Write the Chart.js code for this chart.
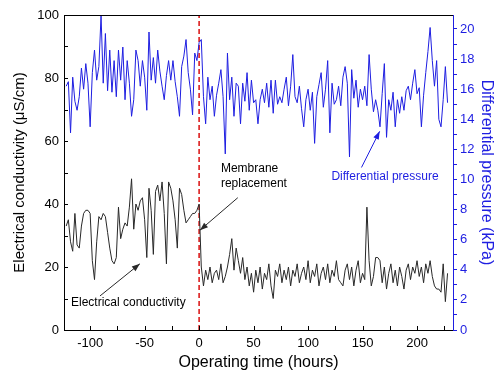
<!DOCTYPE html>
<html>
<head>
<meta charset="utf-8">
<script src="https://cdn.jsdelivr.net/npm/chart.js@4.4.0/dist/chart.umd.min.js"></script>
<style>
    html, body { margin: 0; padding: 0; background: #fff; }
</style>
</head>
<body>
<canvas id="chart" width="496" height="375"></canvas>
<script>
// Operating time (hours), one reading every 2 h
const hours = [
    -122, -120, -118, -116, -114, -112, -110, -108, -106, -104,
    -102, -100, -98, -96, -94, -92, -90, -88, -86, -84,
    -82, -80, -78, -76, -74, -72, -70, -68, -66, -64,
    -62, -60, -58, -56, -54, -52, -50, -48, -46, -44,
    -42, -40, -38, -36, -34, -32, -30, -28, -26, -24,
    -22, -20, -18, -16, -14, -12, -10, -8, -6, -4,
    -2, 0, 2, 4, 6, 8, 10, 12, 14, 16,
    18, 20, 22, 24, 26, 28, 30, 32, 34, 36,
    38, 40, 42, 44, 46, 48, 50, 52, 54, 56,
    58, 60, 62, 64, 66, 68, 70, 72, 74, 76,
    78, 80, 82, 84, 86, 88, 90, 92, 94, 96,
    98, 100, 102, 104, 106, 108, 110, 112, 114, 116,
    118, 120, 122, 124, 126, 128, 130, 132, 134, 136,
    138, 140, 142, 144, 146, 148, 150, 152, 154, 156,
    158, 160, 162, 164, 166, 168, 170, 172, 174, 176,
    178, 180, 182, 184, 186, 188, 190, 192, 194, 196,
    198, 200, 202, 204, 206, 208, 210, 212, 214, 216,
    218, 220, 222, 224, 226, 228
];

// Electrical conductivity (uS/cm), left axis
const conductivity = [
    33, 35, 28, 25, 37, 27, 26, 33, 37, 38,
    38, 37, 22, 16, 28, 36, 35, 37, 36, 31,
    26, 22, 21, 23, 39, 29, 32, 34, 33, 39,
    48, 32, 40, 38, 41, 42, 35, 23, 45, 38,
    24, 44, 46, 41, 47, 37, 21, 47, 45, 41,
    35, 26, 45, 43, 38, 34, 35, 36, 37, 37,
    38, 40, 20, 14, 19, 16, 20, 15, 18, 19,
    16, 21, 15, 17, 20, 24, 29, 19, 26, 22,
    18, 23, 16, 20, 14, 18, 12, 19, 15, 20,
    13, 18, 16, 21, 14, 10, 19, 17, 21, 15,
    19, 16, 20, 14, 19, 17, 21, 15, 18, 20,
    16, 22, 15, 19, 17, 21, 14, 18, 20, 16,
    21, 15, 19, 17, 22, 16, 15, 14, 19, 21,
    16, 20, 14, 19, 22, 15, 18, 16, 39, 22,
    14, 17, 23, 23, 22, 15, 20, 13, 18, 21,
    15, 19, 14, 20, 17, 13, 19, 21, 16, 20,
    18, 22, 17, 20, 15, 21, 18, 22, 17, 14,
    13, 13, 12, 21, 9, 18
];

// Differential pressure (kPa), right axis
const pressure = [
    16.2, 16.5, 13.1, 16.8, 15.2, 14.6, 15.5, 17.4, 16.0, 17.7,
    16.4, 13.5, 17.1, 18.6, 16.6, 17.5, 20.9, 16.4, 19.7, 15.9,
    18.6, 15.8, 17.9, 15.5, 18.6, 16.6, 18.8, 15.3, 17.9, 16.4,
    14.2, 15.3, 18.6, 17.9, 16.2, 17.9, 16.8, 14.6, 19.8, 16.6,
    18.1, 16.4, 18.6, 17.2, 16.2, 15.3, 16.9, 17.9, 16.6, 17.9,
    16.5, 15.5, 14.2, 17.5, 18.2, 19.3, 17.1, 16.0, 14.3, 18.4,
    17.9, 19.1, 19.3, 15.5, 13.7, 16.8, 15.3, 16.2, 14.2, 15.6,
    16.4, 17.3, 15.5, 11.7, 18.4, 15.3, 16.8, 14.2, 16.4, 16.2,
    13.7, 16.4, 15.2, 17.1, 14.6, 16.6, 15.1, 15.3, 13.7, 15.3,
    16.0, 15.1, 16.4, 14.8, 16.6, 14.4, 16.6, 15.0, 15.5, 15.1,
    16.0, 16.8, 14.9, 16.2, 18.3, 15.5, 15.1, 16.2, 14.7, 13.5,
    15.3, 16.0, 14.6, 15.8, 12.4, 15.5, 16.3, 17.1, 14.8, 16.0,
    17.9, 13.1, 16.4, 15.0, 15.3, 16.2, 14.9, 16.8, 17.5, 16.4,
    11.5, 17.3, 15.4, 16.6, 14.8, 16.0, 15.3, 16.2, 14.9, 18.3,
    16.0, 14.5, 15.3, 14.6, 13.5, 15.7, 17.7, 12.8, 15.3, 14.6,
    15.8, 13.5, 15.3, 14.4, 15.5, 14.6, 15.9, 16.2, 15.3, 16.4,
    17.3, 15.7, 16.1, 13.5, 15.6, 17.1, 18.5, 20.1, 17.9, 16.2,
    17.9, 14.0, 13.5, 15.3, 17.5, 15.1
];

// Membrane replacement marker
const replacementHours = [0, 0];
const replacementSpan = [0, 100];

const blue = "rgb(30, 30, 225)";
const dark = "rgb(40, 40, 40)";

Chart.defaults.font.family = "'Liberation Sans', Arial, sans-serif";
Chart.defaults.font.size = 13;
Chart.defaults.color = "#000";

// Text labels and arrows, positioned in axis units
const notes = [
    { axis: "y", x: -117.6, y: 8.6, lines: ["Electrical conductivity"], color: "#000", align: "left" },
    { axis: "y", x: 20, y: 51.3, lines: ["Membrane", "replacement"], color: "#000", align: "left" },
    { axis: "y2", x: 170.6, y: 10.2, lines: ["Differential pressure"], color: blue, align: "center" }
];
const arrows = [
    { axis: "y", from: [-91, 10.8], to: [-54.4, 21], color: dark },
    { axis: "y", from: [35.5, 42], to: [0.8, 31.7], color: dark },
    { axis: "y2", from: [149, 10.8], to: [165.7, 13.2], color: blue }
];

const frameAndNotes = {
    id: "frameAndNotes",
    afterDraw(chart) {
        const { ctx, chartArea: a, scales } = chart;
        ctx.save();

        // top frame line
        ctx.strokeStyle = "#000";
        ctx.lineWidth = 1;
        ctx.beginPath();
        ctx.moveTo(a.left, a.top + 0.5);
        ctx.lineTo(a.right, a.top + 0.5);
        ctx.stroke();

        // inward ticks on left and bottom axes
        ctx.beginPath();
        for (let v = 10; v < 100; v += 10) {
            const py = Math.round(scales.y.getPixelForValue(v)) + 0.5;
            ctx.moveTo(a.left, py);
            ctx.lineTo(a.left + 4, py);
        }
        for (let v = -100; v <= 225; v += 25) {
            const px = Math.round(scales.x.getPixelForValue(v)) + 0.5;
            ctx.moveTo(px, a.bottom);
            ctx.lineTo(px, a.bottom - 4);
        }
        ctx.stroke();

        // notes
        ctx.font = "12px 'Liberation Sans', Arial, sans-serif";
        ctx.textBaseline = "middle";
        notes.forEach(n => {
            ctx.fillStyle = n.color;
            ctx.textAlign = n.align;
            const px = scales.x.getPixelForValue(n.x);
            const py = scales[n.axis].getPixelForValue(n.y);
            n.lines.forEach((t, i) => ctx.fillText(t, px, py + i * 15));
        });

        // arrows
        arrows.forEach(ar => {
            const x0 = scales.x.getPixelForValue(ar.from[0]);
            const y0 = scales[ar.axis].getPixelForValue(ar.from[1]);
            const x1 = scales.x.getPixelForValue(ar.to[0]);
            const y1 = scales[ar.axis].getPixelForValue(ar.to[1]);
            const ang = Math.atan2(y1 - y0, x1 - x0);
            ctx.strokeStyle = ar.color;
            ctx.fillStyle = ar.color;
            ctx.lineWidth = 1;
            ctx.beginPath();
            ctx.moveTo(x0, y0);
            ctx.lineTo(x1, y1);
            ctx.stroke();
            ctx.beginPath();
            ctx.moveTo(x1, y1);
            ctx.lineTo(x1 - 8 * Math.cos(ang) + 3 * Math.sin(ang), y1 - 8 * Math.sin(ang) - 3 * Math.cos(ang));
            ctx.lineTo(x1 - 8 * Math.cos(ang) - 3 * Math.sin(ang), y1 - 8 * Math.sin(ang) + 3 * Math.cos(ang));
            ctx.closePath();
            ctx.fill();
        });
        ctx.restore();
    }
};

new Chart(document.getElementById("chart"), {
    type: "line",
    data: {
        datasets: [
            {
                label: "Electrical conductivity",
                data: hours.map((h, i) => ({ x: h, y: conductivity[i] })),
                yAxisID: "y",
                borderColor: dark,
                borderWidth: 1,
                pointRadius: 0,
                tension: 0
            },
            {
                label: "Differential pressure",
                data: hours.map((h, i) => ({ x: h, y: pressure[i] })),
                yAxisID: "y2",
                borderColor: blue,
                borderWidth: 1,
                pointRadius: 0,
                tension: 0
            },
            {
                label: "Membrane replacement",
                data: replacementHours.map((h, i) => ({ x: h, y: replacementSpan[i] })),
                yAxisID: "y",
                borderColor: "rgb(220, 30, 30)",
                borderWidth: 1.6,
                borderDash: [5, 3],
                pointRadius: 0
            }
        ]
    },
    options: {
        responsive: false,
        animation: false,
        events: [],
        layout: { padding: { top: 15, left: 0, right: 0, bottom: 0 } },
        plugins: {
            legend: { display: false },
            tooltip: { enabled: false }
        },
        scales: {
            x: {
                type: "linear",
                position: "bottom",
                min: -124,
                max: 233,
                afterFit: s => { s.height = 45; },
                grid: { display: false, drawTicks: false },
                border: { display: true, color: "#000", width: 1 },
                ticks: { stepSize: 50, includeBounds: false, padding: 6, maxRotation: 0 },
                title: {
                    display: true,
                    text: "Operating time (hours)",
                    font: { size: 16 },
                    padding: { top: 0, bottom: 3 }
                }
            },
            y: {
                position: "left",
                min: 0,
                max: 100,
                afterFit: s => { s.width = 64; },
                grid: { display: false, drawTicks: false },
                border: { display: true, color: "#000", width: 1 },
                ticks: { stepSize: 20, padding: 5 },
                title: {
                    display: true,
                    text: "Electrical conductivity (\u03bcS/cm)",
                    font: { size: 15 },
                    padding: { top: 11, bottom: 0 }
                }
            },
            y2: {
                position: "right",
                min: 0,
                max: 20.93,
                afterFit: s => { s.width = 43; },
                grid: { drawOnChartArea: false, drawTicks: true, tickLength: 4, color: blue },
                border: { display: true, color: blue, width: 1 },
                ticks: {
                    stepSize: 1,
                    includeBounds: false,
                    autoSkip: false,
                    padding: 3,
                    color: blue,
                    callback: v => (v % 2 === 0 ? v : "")
                },
                title: {
                    display: true,
                    text: "Differential pressure (kPa)",
                    color: blue,
                    font: { size: 16 },
                    padding: { top: 0, bottom: 0 }
                }
            }
        }
    },
    plugins: [frameAndNotes]
});
</script>
</body>
</html>
